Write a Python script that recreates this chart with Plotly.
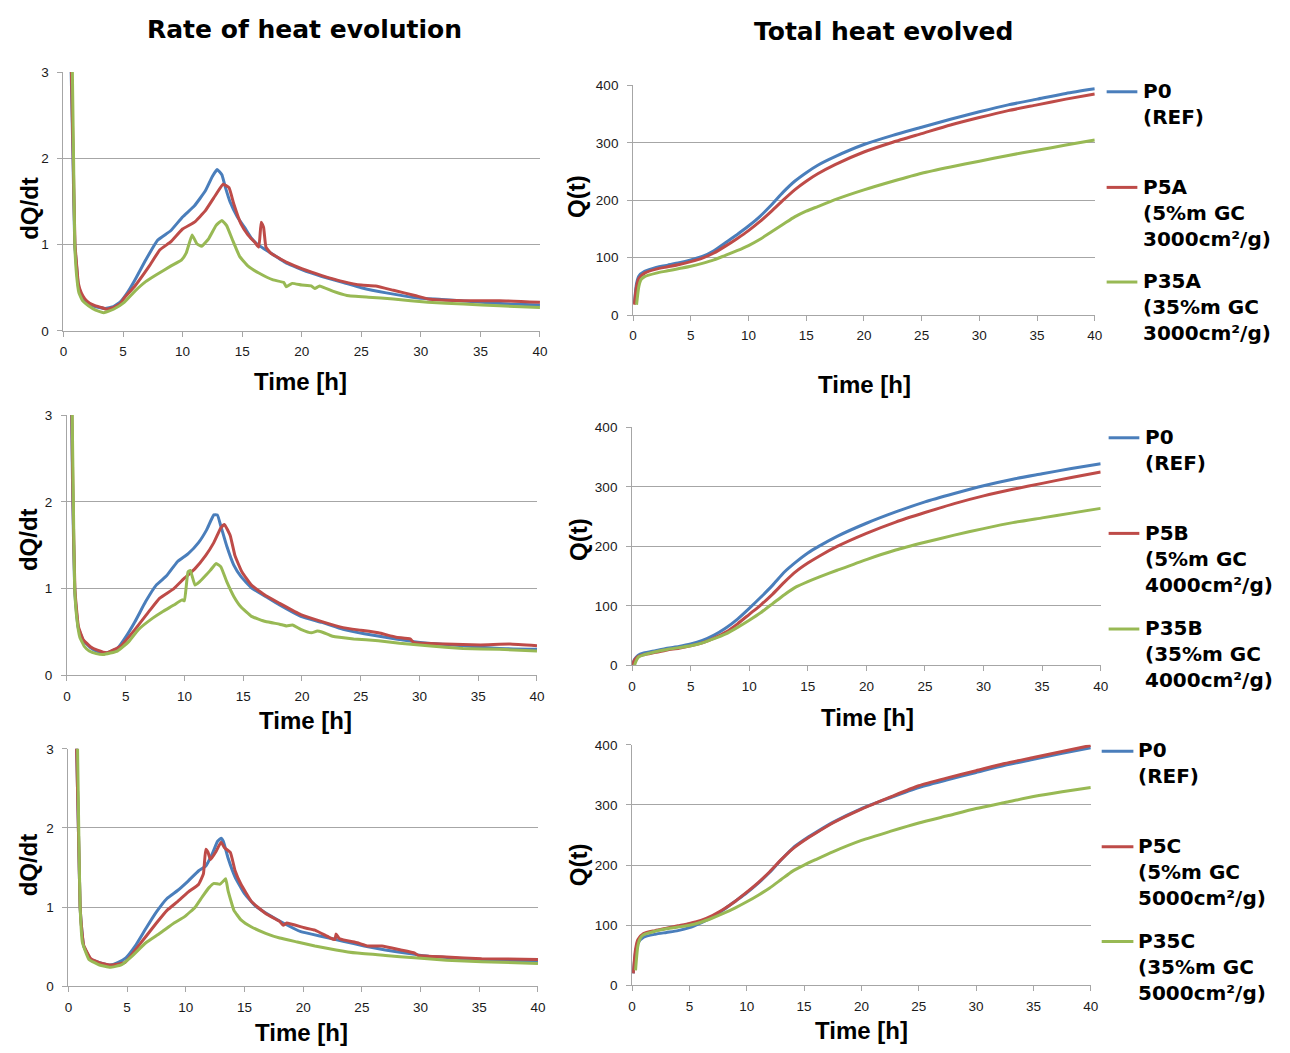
import plotly.graph_objects as go

# ---------------- data ----------------
SERIES_COLORS = ["#4A7EBB", "#BE4B48", "#98B954"]

# Rate of heat evolution (dQ/dt) - series A
RA_P0_T = [0.55, 0.65, 0.8, 0.95, 1.1, 1.25, 1.5, 1.7, 2.0, 2.5, 3.0, 3.5, 4.2, 4.8, 5.4, 6.0, 6.9, 7.9, 9.0, 10.0,
           11.0, 11.9, 12.5, 12.9, 13.3, 13.6, 14.0, 14.6, 15.2, 15.8, 16.4, 17.3, 18.8, 20.0, 21.7, 23.5, 25.0, 27.1,
           29.8, 32.1, 35.1, 37.5, 40.0]
RA_P0_V = [4.2, 3.0, 2.0, 1.0, 0.75, 0.52, 0.42, 0.37, 0.33, 0.29, 0.27, 0.26, 0.28, 0.34, 0.45, 0.59, 0.82, 1.05, 1.16,
           1.32, 1.45, 1.62, 1.79, 1.87, 1.81, 1.66, 1.49, 1.32, 1.2, 1.07, 0.99, 0.91, 0.78, 0.71, 0.63, 0.56, 0.5, 0.44,
           0.38, 0.36, 0.33, 0.31, 0.3]
RA_P5_T = [0.55, 0.67, 0.82, 0.97, 1.1, 1.25, 1.5, 1.8, 2.2, 2.7, 3.2, 3.6, 4.2, 4.8, 5.1, 6.0, 7.2, 8.1, 9.0, 10.0,
           11.0, 11.9, 12.8, 13.4, 13.9, 14.3, 14.9, 15.5, 16.1, 16.4, 16.6, 16.8, 17.0, 17.4, 18.8, 20.0, 21.7, 23.5,
           25.0, 26.2, 27.7, 29.5, 30.6, 33.6, 36.6, 40.0]
RA_P5_V = [4.2, 3.0, 2.0, 1.0, 0.78, 0.55, 0.44, 0.37, 0.32, 0.29, 0.27, 0.25, 0.27, 0.32, 0.38, 0.52, 0.75, 0.94, 1.03,
           1.18, 1.26, 1.39, 1.58, 1.7, 1.66, 1.47, 1.24, 1.11, 1.02, 0.97, 1.26, 1.2, 0.97, 0.9, 0.79, 0.72, 0.64, 0.57,
           0.53, 0.52, 0.47, 0.41, 0.37, 0.35, 0.35, 0.33]
RA_P35_T = [0.6, 0.75, 0.85, 0.95, 1.1, 1.3, 1.6, 2.1, 2.7, 3.4, 4.2, 5.1, 6.0, 6.9, 7.8, 9.0, 9.9, 10.3, 10.8, 11.2,
            11.6, 12.2, 12.8, 13.3, 13.7, 14.2, 14.8, 15.5, 16.4, 17.6, 18.5, 18.7, 19.2, 20.0, 20.8, 21.1, 21.5, 22.6,
            23.8, 25.6, 27.7, 30.6, 33.6, 36.6, 40.0]
RA_P35_V = [4.5, 3.0, 2.0, 1.0, 0.65, 0.44, 0.35, 0.29, 0.24, 0.21, 0.25, 0.33, 0.46, 0.57, 0.65, 0.75, 0.82, 0.9, 1.11,
            1.01, 0.98, 1.07, 1.22, 1.28, 1.22, 1.05, 0.86, 0.75, 0.67, 0.59, 0.56, 0.51, 0.55, 0.53, 0.52, 0.49, 0.52,
            0.46, 0.41, 0.39, 0.37, 0.33, 0.31, 0.29, 0.27]

# series B
RB_P0_T = [0.3, 0.4, 0.5, 0.66, 0.8, 0.96, 1.4, 2.0, 2.5, 3.4, 4.3, 5.0, 5.8, 6.7, 7.6, 8.5, 9.4, 10.3, 11.2, 11.9,
           12.5, 12.8, 13.1, 13.6, 14.2, 14.8, 15.7, 16.9, 18.1, 19.9, 21.7, 23.5, 25.3, 27.1, 28.9, 30.7, 33.7, 36.8, 40.0]
RB_P0_V = [4.2, 3.0, 2.0, 1.0, 0.75, 0.55, 0.4, 0.32, 0.28, 0.26, 0.31, 0.44, 0.62, 0.85, 1.04, 1.15, 1.31, 1.4, 1.53,
           1.68, 1.85, 1.85, 1.72, 1.49, 1.27, 1.14, 1.01, 0.91, 0.81, 0.68, 0.61, 0.53, 0.48, 0.44, 0.4, 0.37, 0.34,
           0.31, 0.3]
RB_P5_T = [0.3, 0.42, 0.52, 0.68, 0.82, 0.98, 1.4, 2.0, 2.6, 3.4, 4.6, 5.8, 7.0, 7.9, 9.1, 10.0, 10.9, 11.8, 12.5, 13.1,
           13.4, 13.9, 14.3, 14.9, 15.7, 16.9, 18.1, 19.9, 21.7, 23.5, 25.0, 26.5, 28.0, 29.2, 29.5, 32.2, 35.2, 37.7, 40.0]
RB_P5_V = [4.2, 3.0, 2.0, 1.0, 0.76, 0.56, 0.41, 0.33, 0.29, 0.26, 0.34, 0.53, 0.74, 0.89, 1.0, 1.12, 1.23, 1.38, 1.53,
           1.7, 1.74, 1.61, 1.38, 1.19, 1.04, 0.92, 0.83, 0.7, 0.62, 0.55, 0.52, 0.49, 0.44, 0.42, 0.38, 0.36, 0.35,
           0.36, 0.34]
RB_P35_T = [0.35, 0.45, 0.55, 0.66, 0.85, 1.1, 1.5, 1.9, 2.5, 3.1, 4.3, 5.2, 6.1, 7.3, 8.2, 9.1, 9.8, 10.0, 10.3, 10.5,
            10.9, 11.3, 11.8, 12.2, 12.7, 13.1, 13.6, 14.2, 14.8, 15.7, 16.9, 18.1, 18.7, 19.2, 19.9, 20.8, 21.3, 21.7,
            22.6, 24.4, 26.5, 28.3, 30.7, 33.7, 36.8, 40.0]
RB_P35_V = [4.5, 3.0, 2.0, 1.0, 0.65, 0.44, 0.33, 0.28, 0.25, 0.24, 0.28, 0.38, 0.53, 0.66, 0.74, 0.81, 0.87, 0.86, 1.19,
            1.21, 1.04, 1.08, 1.15, 1.21, 1.29, 1.25, 1.08, 0.91, 0.79, 0.68, 0.62, 0.59, 0.57, 0.58, 0.53, 0.49, 0.51,
            0.5, 0.45, 0.42, 0.4, 0.37, 0.34, 0.31, 0.3, 0.28]

# series C
RC_P0_T = [0.55, 0.7, 0.85, 1.0, 1.15, 1.3, 1.9, 2.65, 3.55, 4.2, 4.9, 5.7, 6.6, 7.5, 8.4, 9.3, 10.2, 11.1, 11.7, 12.3,
           12.7, 13.0, 13.2, 13.6, 14.2, 15.0, 15.9, 17.1, 18.3, 19.8, 21.6, 23.4, 25.2, 27.0, 29.2, 30.7, 33.7, 36.7, 40.0]
RC_P0_V = [4.2, 3.0, 2.0, 1.0, 0.7, 0.51, 0.34, 0.3, 0.27, 0.3, 0.36, 0.51, 0.73, 0.94, 1.11, 1.21, 1.33, 1.46, 1.52,
           1.69, 1.83, 1.87, 1.83, 1.62, 1.38, 1.17, 1.02, 0.9, 0.8, 0.69, 0.63, 0.57, 0.51, 0.46, 0.41, 0.38, 0.35,
           0.33, 0.31]
RC_P5_T = [0.55, 0.7, 0.85, 1.0, 1.15, 1.3, 1.9, 2.65, 3.55, 4.8, 5.7, 6.6, 7.5, 8.4, 9.3, 10.2, 11.1, 11.5, 11.7, 11.9,
           12.1, 12.6, 13.0, 13.3, 13.8, 14.2, 14.7, 15.6, 16.8, 18.0, 18.3, 18.6, 20.1, 21.0, 22.2, 22.7, 22.8, 23.1,
           24.6, 25.5, 26.7, 28.3, 29.5, 29.8, 32.2, 35.2, 40.0]
RC_P5_V = [4.2, 3.0, 2.0, 1.0, 0.7, 0.52, 0.35, 0.3, 0.27, 0.3, 0.46, 0.63, 0.8, 0.96, 1.07, 1.19, 1.29, 1.42, 1.73,
           1.69, 1.6, 1.71, 1.82, 1.75, 1.69, 1.46, 1.29, 1.07, 0.92, 0.82, 0.77, 0.8, 0.74, 0.71, 0.62, 0.59, 0.66,
           0.6, 0.55, 0.51, 0.51, 0.46, 0.42, 0.39, 0.37, 0.35, 0.34]
RC_P35_T = [0.6, 0.78, 0.9, 1.0, 1.2, 1.75, 2.65, 3.55, 4.5, 5.4, 6.6, 7.8, 9.0, 9.9, 10.8, 11.4, 12.0, 12.4, 12.9, 13.2,
            13.4, 13.6, 14.1, 14.7, 15.6, 16.8, 18.0, 19.5, 21.0, 22.8, 24.6, 27.0, 29.5, 32.2, 35.2, 40.0]
RC_P35_V = [4.5, 3.0, 1.8, 1.0, 0.55, 0.34, 0.27, 0.24, 0.27, 0.38, 0.55, 0.67, 0.8, 0.88, 1.0, 1.13, 1.25, 1.3, 1.29,
            1.33, 1.36, 1.21, 0.96, 0.84, 0.75, 0.67, 0.61, 0.56, 0.51, 0.46, 0.42, 0.39, 0.36, 0.33, 0.31, 0.29]

# Total heat evolved Q(t): onset points + common time grid
Q_TIME = [1, 2, 3, 4, 5, 6, 7, 8, 9, 10, 11, 12, 13, 14, 15, 16, 17.5, 20, 22.5, 25, 27.5, 30, 32.5, 35, 37.5, 40]

QA_P0_T0, QA_P0_V0 = [0.1, 0.3, 0.5], [20, 55, 68]
QA_P5_T0, QA_P5_V0 = [0.1, 0.3, 0.5], [18, 50, 64]
QA_P35_T0, QA_P35_V0 = [0.3, 0.5, 0.7], [18, 50, 62]
QA_P0 = [76, 83, 87, 91, 96, 102, 112, 126, 140, 155, 172, 192, 214, 233, 248, 261, 276, 297, 313, 327, 341, 354, 366, 376, 386, 394]
QA_P5 = [73, 80, 84, 88, 93, 99, 108, 120, 133, 147, 163, 181, 200, 218, 233, 246, 262, 284, 301, 316, 331, 344, 356, 366, 376, 385]
QA_P35 = [67, 73, 77, 81, 85, 90, 96, 104, 112, 121, 132, 145, 158, 171, 181, 189, 201, 218, 233, 247, 258, 268, 278, 287, 296, 305]

QB_P0_T0, QB_P0_V0 = [0.0, 0.2, 0.5], [0, 10, 17]
QB_P5_T0, QB_P5_V0 = [0.0, 0.2, 0.5], [0, 9, 15]
QB_P35_T0, QB_P35_V0 = [0.2, 0.4, 0.6], [0, 10, 15]
QB_P0 = [21, 25, 29, 32, 36, 42, 51, 63, 78, 96, 115, 135, 157, 174, 189, 201, 217, 239, 258, 275, 289, 302, 313, 322, 331, 339]
QB_P5 = [18, 22, 26, 29, 33, 38, 46, 56, 70, 86, 102, 120, 140, 158, 172, 184, 200, 222, 241, 257, 272, 285, 296, 306, 316, 325]
QB_P35 = [18, 23, 27, 30, 33, 38, 45, 53, 64, 76, 89, 104, 119, 132, 141, 149, 160, 178, 194, 207, 219, 230, 240, 248, 256, 264]

QC_P0_T0, QC_P0_V0 = [0.1, 0.3, 0.5], [20, 55, 70]
QC_P5_T0, QC_P5_V0 = [0.1, 0.3, 0.5], [20, 60, 76]
QC_P35_T0, QC_P35_V0 = [0.3, 0.5, 0.7], [25, 65, 78]
QC_P0 = [80, 85, 88, 91, 96, 104, 113, 126, 140, 154, 170, 188, 209, 228, 242, 254, 271, 294, 312, 329, 342, 354, 366, 376, 386, 395]
QC_P5 = [86, 91, 95, 99, 103, 108, 116, 127, 140, 155, 171, 189, 209, 227, 241, 253, 270, 293, 313, 332, 345, 357, 369, 379, 389, 399]
QC_P35 = [84, 90, 94, 97, 100, 105, 112, 120, 129, 139, 150, 162, 176, 190, 200, 209, 222, 241, 256, 270, 282, 294, 304, 314, 322, 329]

LEGEND_A = [["P0", "(REF)"], ["P5A", "(5%m GC", "3000cm²/g)"], ["P35A", "(35%m GC", "3000cm²/g)"]]
LEGEND_B = [["P0", "(REF)"], ["P5B", "(5%m GC", "4000cm²/g)"], ["P35B", "(35%m GC", "4000cm²/g)"]]
LEGEND_C = [["P0", "(REF)"], ["P5C", "(5%m GC", "5000cm²/g)"], ["P35C", "(35%m GC", "5000cm²/g)"]]

TITLE_LEFT = "Rate of heat evolution"
TITLE_RIGHT = "Total heat evolved"
X_TITLE = "Time [h]"
Y_TITLE_RATE = "dQ/dt"
Y_TITLE_Q = "Q(t)"

# ---------------- layout helpers ----------------
W, H = 1290, 1053


def fx(px):
    return px / W


def fy(py):
    return 1 - py / H


TICK_FONT = dict(family="Liberation Sans, Arial, sans-serif", size=13.5, color="#1a1a1a")
AX_FONT = dict(family="Liberation Sans, Arial, sans-serif", size=24, color="#000000", weight="bold")
TITLE_FONT = dict(family="DejaVu Sans, sans-serif", size=25, color="#000000", weight="bold")
LEG_FONT = dict(family="DejaVu Sans, sans-serif", size=20, color="#000000", weight="bold")
GRID = "#A6A6A6"

fig = go.Figure()

# panel geometry (pixels): x-left, x-right, y-top, y-bottom
PANELS = {
    1: (60, 541, 66, 328.5),
    2: (635, 1101, 79.5, 312.5),
    3: (63.5, 538, 414, 678),
    4: (634, 1107, 426.5, 668),
    5: (65, 539, 752.5, 993.5),
    6: (634, 1097, 748.5, 992.5),
}

rate_sets = {
    1: [(RA_P0_T, RA_P0_V), (RA_P5_T, RA_P5_V), (RA_P35_T, RA_P35_V)],
    3: [(RB_P0_T, RB_P0_V), (RB_P5_T, RB_P5_V), (RB_P35_T, RB_P35_V)],
    5: [(RC_P0_T, RC_P0_V), (RC_P5_T, RC_P5_V), (RC_P35_T, RC_P35_V)],
}
q_sets = {
    2: [(QA_P0_T0, QA_P0_V0, QA_P0), (QA_P5_T0, QA_P5_V0, QA_P5), (QA_P35_T0, QA_P35_V0, QA_P35)],
    4: [(QB_P0_T0, QB_P0_V0, QB_P0), (QB_P5_T0, QB_P5_V0, QB_P5), (QB_P35_T0, QB_P35_V0, QB_P35)],
    6: [(QC_P0_T0, QC_P0_V0, QC_P0), (QC_P5_T0, QC_P5_V0, QC_P5), (QC_P35_T0, QC_P35_V0, QC_P35)],
}
legend_sets = {2: LEGEND_A, 4: LEGEND_B, 6: LEGEND_C}

for n, sets in rate_sets.items():
    for (t, v), c, lab in zip(sets, SERIES_COLORS, legend_sets[n + 1]):
        fig.add_trace(go.Scatter(x=t, y=v, mode="lines", name=lab[0], showlegend=False,
                                 line=dict(color=c, width=3, shape="spline", smoothing=0.35),
                                 xaxis=f"x{n}", yaxis=f"y{n}"))

for n, sets in q_sets.items():
    for (t0, v0, v), c, lab in zip(sets, SERIES_COLORS, legend_sets[n]):
        fig.add_trace(go.Scatter(x=t0 + Q_TIME, y=v0 + v, mode="lines", name=lab[0], showlegend=False,
                                 line=dict(color=c, width=3, shape="spline", smoothing=0.6),
                                 xaxis=f"x{n}", yaxis=f"y{n}"))

layout = dict(
    width=W, height=H, margin=dict(l=0, r=0, t=0, b=0),
    paper_bgcolor="white", plot_bgcolor="white", showlegend=False,
)

for n, (x0, x1, y0, y1) in PANELS.items():
    is_rate = n % 2 == 1
    layout[f"xaxis{n}"] = dict(
        domain=[fx(x0), fx(x1)], range=[0, 40], anchor=f"y{n}", tick0=0, dtick=5,
        showline=True, linecolor=GRID, linewidth=1, ticks="outside", ticklen=5, tickcolor=GRID,
        showgrid=False, zeroline=False, tickfont=TICK_FONT, ticklabelstandoff=3, fixedrange=True,
    )
    layout[f"yaxis{n}"] = dict(
        domain=[fy(y1), fy(y0)], range=[0, 3] if is_rate else [0, 400], anchor=f"x{n}",
        tick0=0, dtick=1 if is_rate else 100,
        showline=True, linecolor=GRID, linewidth=1, ticks="outside", ticklen=5, tickcolor=GRID,
        showgrid=True, gridcolor=GRID, gridwidth=1, zeroline=False, tickfont=TICK_FONT,
        ticklabelstandoff=6, fixedrange=True,
    )

annotations = []


def ann(text, x, y, font, angle=0, xanchor="center", yanchor="middle"):
    annotations.append(dict(text=text, x=fx(x), y=fy(y), xref="paper", yref="paper", showarrow=False,
                            font=font, textangle=angle, xanchor=xanchor, yanchor=yanchor, align="left"))


ann(TITLE_LEFT, 303, 23, TITLE_FONT)
ann(TITLE_RIGHT, 888, 25, TITLE_FONT)

# axis titles
X_TITLE_POS = {1: (299, 380), 2: (869, 383), 3: (304, 724), 4: (872, 721), 5: (300, 1040), 6: (866, 1038)}
Y_TITLE_POS = {1: (25, 204), 2: (578, 192), 3: (25, 540), 4: (580, 540), 5: (25, 870), 6: (580, 870)}
for n in PANELS:
    ann(X_TITLE, *X_TITLE_POS[n], AX_FONT)
    ann(Y_TITLE_RATE if n % 2 == 1 else Y_TITLE_Q, *Y_TITLE_POS[n], AX_FONT, angle=-90)

# legends (swatch + text blocks)
LEG_GEOM = {
    2: dict(sx=(1113, 1144), tx=1148, ys=(86, 183, 279)),
    4: dict(sx=(1115, 1146), tx=1150, ys=(437, 534, 631)),
    6: dict(sx=(1108, 1140), tx=1143, ys=(755, 852, 948)),
}
shapes = []
for n, g in LEG_GEOM.items():
    for lines, c, ly in zip(legend_sets[n], SERIES_COLORS, g["ys"]):
        shapes.append(dict(type="line", xref="paper", yref="paper", x0=fx(g["sx"][0]), x1=fx(g["sx"][1]),
                           y0=fy(ly), y1=fy(ly), line=dict(color=c, width=3)))
        ann("<br>".join(lines), g["tx"], ly - 15, LEG_FONT, xanchor="left", yanchor="top")

layout["annotations"] = annotations
layout["shapes"] = shapes
fig.update_layout(**layout)

fig.write_html("out.html")
